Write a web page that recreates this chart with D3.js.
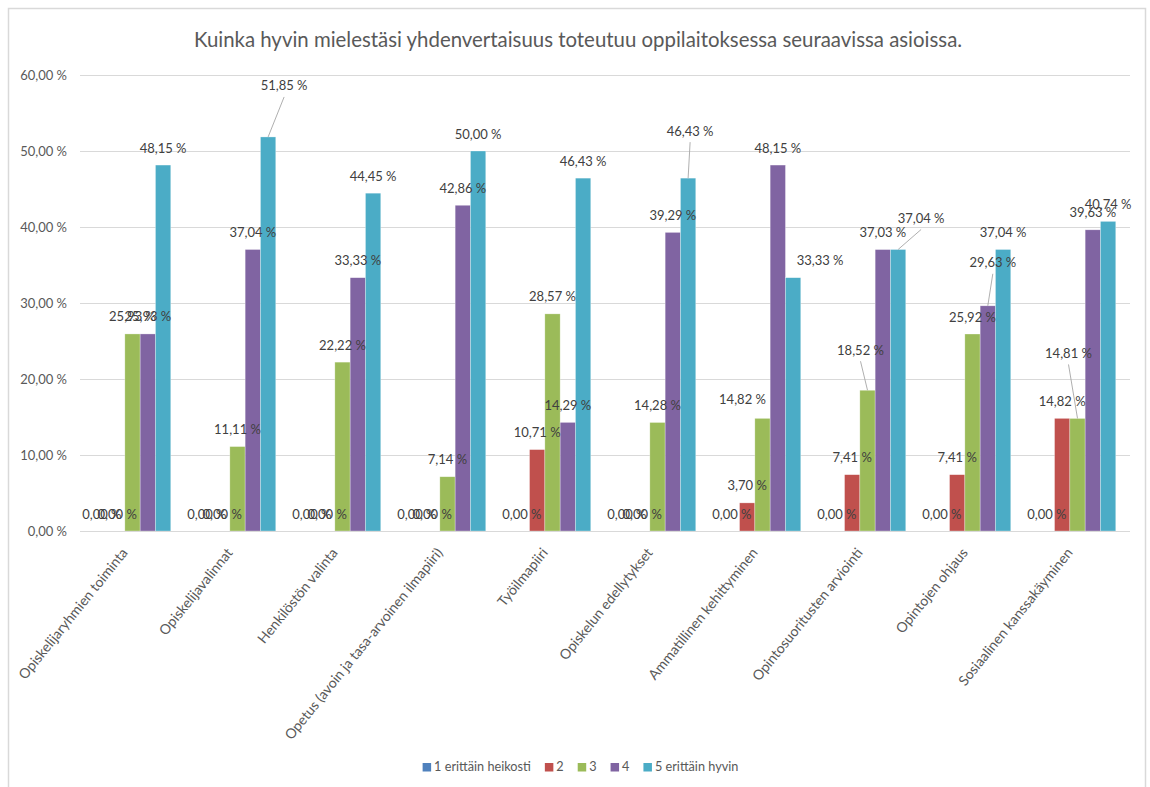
<!DOCTYPE html>
<html>
<head>
<meta charset="utf-8">
<script src="https://cdn.jsdelivr.net/npm/d3@7"></script>
<style>
  html, body { margin: 0; padding: 0; background: #fff; }
  svg { display: block; }
  text { font-family: Lato, "Noto Sans", sans-serif; }
</style>
</head>
<body>
<svg id="chart" width="1150" height="787"></svg>
<script>
const title = "Kuinka hyvin mielestäsi yhdenvertaisuus toteutuu oppilaitoksessa seuraavissa asioissa.";
const categories = [
  "Opiskelijaryhmien toiminta",
  "Opiskelijavalinnat",
  "Henkilöstön valinta",
  "Opetus (avoin ja tasa-arvoinen ilmapiiri)",
  "Työilmapiiri",
  "Opiskelun edellytykset",
  "Ammatillinen kehittyminen",
  "Opintosuoritusten arviointi",
  "Opintojen ohjaus",
  "Sosiaalinen kanssakäyminen"
];
const seriesNames = ["1 erittäin heikosti", "2", "3", "4", "5 erittäin hyvin"];
const s1 = [0, 0, 0, 0, 0, 0, 0, 0, 0, 0];
const s2 = [0, 0, 0, 0, 10.71, 0, 3.70, 7.41, 7.41, 14.82];
const s3 = [25.93, 11.11, 22.22, 7.14, 28.57, 14.28, 14.82, 18.52, 25.92, 14.81];
const s4 = [25.93, 37.04, 33.33, 42.86, 14.29, 39.29, 48.15, 37.03, 29.63, 39.63];
const s5 = [48.15, 51.85, 44.45, 50.00, 46.43, 46.43, 33.33, 37.04, 37.04, 40.74];
const yTicks = [0, 10, 20, 30, 40, 50, 60];

const seriesValues = [s1, s2, s3, s4, s5];
const colors = ["#4F81BD", "#C0504D", "#9BBB59", "#8064A2", "#4BACC6"];

// label nudges (series index - category index) : [dx, dy, leaderLine]
const labelNudge = {
  "4-1": [16, -34, true],
  "4-5": [2, -30, true],
  "4-6": [27, 0, false],
  "2-6": [-20, -2, false],
  "2-7": [-7, -23, true],
  "4-7": [23, -14, true],
  "3-8": [5, -26, true],
  "2-9": [-9, -48, true]
};

const svg = d3.select("#chart");
const plot = { left: 80, right: 1130, top: 75, bottom: 531 };

// chart border
svg.append("rect")
  .attr("x", 8.5).attr("y", 8.5)
  .attr("width", 1137).attr("height", 800)
  .attr("fill", "#fff").attr("stroke", "#D9D9D9").attr("stroke-width", 1.5);

// title
svg.append("text")
  .attr("x", 578).attr("y", 47)
  .attr("text-anchor", "middle")
  .attr("font-size", 20.4)
  .attr("fill", "#595959")
  .text(title);

const x0 = d3.scaleBand().domain(categories).range([plot.left, plot.right]).paddingInner(0).paddingOuter(0);
const x1 = d3.scaleBand().domain(d3.range(seriesNames.length)).range([0, x0.bandwidth()]).paddingInner(0).paddingOuter(0.93);
const y = d3.scaleLinear().domain([0, 60]).range([plot.bottom, plot.top]);

const fmt = v => v.toFixed(2).replace(".", ",") + " %";

// gridlines
svg.append("g").selectAll("line").data(yTicks).join("line")
  .attr("x1", plot.left).attr("x2", plot.right)
  .attr("y1", d => Math.round(y(d)) + 0.5).attr("y2", d => Math.round(y(d)) + 0.5)
  .attr("stroke", "#D9D9D9").attr("stroke-width", 1);

// y axis
const yAxis = d3.axisLeft(y).tickValues(yTicks).tickSize(0).tickPadding(0).tickFormat(fmt);
const gy = svg.append("g").attr("transform", `translate(67,0)`).call(yAxis);
gy.select(".domain").remove();
gy.selectAll("text").attr("font-size", 13).attr("fill", "#595959").attr("font-family", "Lato, 'Noto Sans', sans-serif");

// bars
const groups = svg.append("g").selectAll("g").data(seriesValues).join("g")
  .attr("fill", (d, i) => colors[i]);
groups.each(function(vals, si) {
  d3.select(this).selectAll("rect").data(vals).join("rect")
    .attr("x", (v, ci) => x0(categories[ci]) + x1(si))
    .attr("width", x1.bandwidth())
    .attr("y", v => y(v))
    .attr("height", v => y(0) - y(v))
    .attr("stroke", "#fff").attr("stroke-width", 0.6).attr("stroke-opacity", 0.5);
});

// x axis baseline
svg.append("line")
  .attr("x1", plot.left).attr("x2", plot.right)
  .attr("y1", plot.bottom + 0.5).attr("y2", plot.bottom + 0.5)
  .attr("stroke", "#D9D9D9");

// data labels
const labelLayer = svg.append("g");
const leaderLayer = svg.append("g");
seriesValues.forEach((vals, si) => {
  vals.forEach((v, ci) => {
    const bx = x0(categories[ci]) + x1(si) + x1.bandwidth() / 2;
    const by = y(v);
    const n = labelNudge[si + "-" + ci] || [0, 0, false];
    const lx = bx + n[0], ly = by - 17 + n[1];
    labelLayer.append("text")
      .attr("x", lx).attr("y", ly)
      .attr("dy", "0.35em")
      .attr("text-anchor", "middle")
      .attr("font-size", 13)
      .attr("fill", "#404040")
      .text(fmt(v));
    if (n[2]) {
      leaderLayer.append("line")
        .attr("x1", lx).attr("y1", ly + 11)
        .attr("x2", bx).attr("y2", by)
        .attr("stroke", "#A6A6A6").attr("stroke-width", 0.9);
    }
  });
});

// x axis labels
svg.append("g").selectAll("text").data(categories).join("text")
  .attr("transform", d => `translate(${x0(d) + x0.bandwidth() / 2 - 4},${plot.bottom + 22}) rotate(-51)`)
  .attr("text-anchor", "end")
  .attr("font-size", 14)
  .attr("fill", "#595959")
  .text(d => d);

// legend
const legend = svg.append("g");
let lxPos = 0;
const items = [];
seriesNames.forEach((name, i) => {
  const g = legend.append("g");
  g.append("rect").attr("x", 0).attr("y", -4).attr("width", 8.5).attr("height", 8.5).attr("fill", colors[i]);
  const t = g.append("text").attr("x", 11.5).attr("y", 0).attr("dy", "0.35em")
    .attr("font-size", 12.7).attr("fill", "#595959").text(name);
  const w = 11.5 + t.node().getComputedTextLength();
  items.push({ g, start: lxPos });
  lxPos += w + 14;
});
const totalW = lxPos - 14;
const legendStart = 580.5 - totalW / 2;
items.forEach(it => it.g.attr("transform", `translate(${legendStart + it.start},767)`));
</script>
</body>
</html>
